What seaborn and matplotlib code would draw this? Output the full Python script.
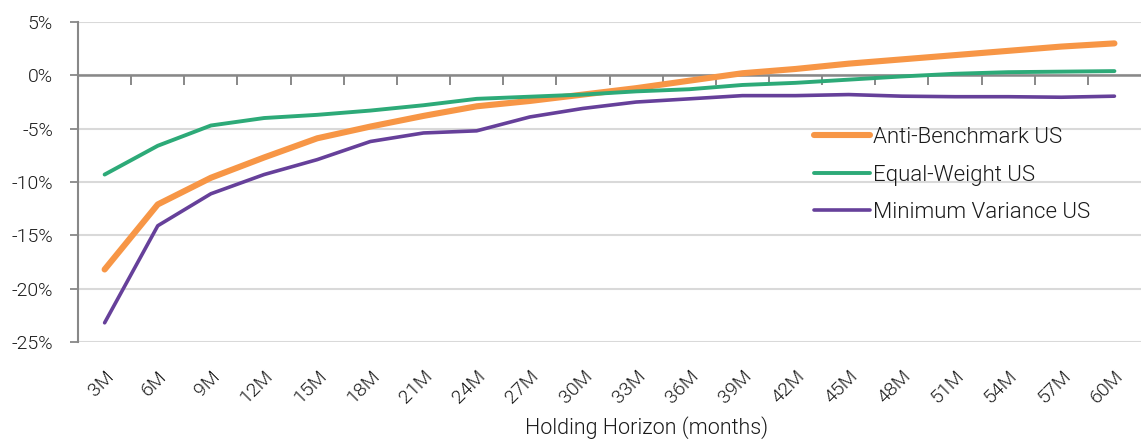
import numpy as np
import pandas as pd
import seaborn as sns
import matplotlib.pyplot as plt
from matplotlib.ticker import FixedLocator, FuncFormatter

# Data (returns in %)
horizons = ["3M", "6M", "9M", "12M", "15M", "18M", "21M", "24M", "27M", "30M",
            "33M", "36M", "39M", "42M", "45M", "48M", "51M", "54M", "57M", "60M"]
anti_benchmark = [-18.2, -12.1, -9.6, -7.7, -5.9, -4.8, -3.8, -2.9, -2.4, -1.8,
                  -1.2, -0.5, 0.2, 0.6, 1.1, 1.5, 1.9, 2.3, 2.7, 3.0]
equal_weight = [-9.3, -6.6, -4.7, -4.0, -3.7, -3.3, -2.8, -2.2, -2.0, -1.8,
                -1.5, -1.3, -0.9, -0.7, -0.4, -0.1, 0.15, 0.3, 0.35, 0.4]
min_variance = [-23.2, -14.1, -11.1, -9.3, -7.9, -6.2, -5.4, -5.2, -3.9, -3.1,
                -2.5, -2.2, -1.9, -1.9, -1.8, -1.95, -2.0, -2.0, -2.05, -1.95]
series_names = ["Anti-Benchmark US", "Equal-Weight US", "Minimum Variance US"]
y_ticks = [5, 0, -5, -10, -15, -20, -25]

colors = {"Anti-Benchmark US": "#F79646",
          "Equal-Weight US": "#2DAA78",
          "Minimum Variance US": "#66409A"}
widths = {"Anti-Benchmark US": 4.4, "Equal-Weight US": 2.8, "Minimum Variance US": 2.6}

df = pd.DataFrame({"horizon": horizons, "pos": np.arange(len(horizons)),
                   series_names[0]: anti_benchmark,
                   series_names[1]: equal_weight,
                   series_names[2]: min_variance})
long = df.melt(id_vars=["horizon", "pos"], var_name="series", value_name="ret")

sns.set_style("white")
plt.rcParams["font.family"] = ["Roboto", "DejaVu Sans"]
TXT = "#1a1a1a"
W = 300

fig = plt.figure(figsize=(11.41, 4.41), dpi=100)
ax = fig.add_axes([0.0684, 0.2245, 0.9316, 0.7255])

for name in series_names:
    sns.lineplot(data=long[long["series"] == name], x="pos", y="ret",
                 color=colors[name], linewidth=widths[name], label=name,
                 solid_capstyle="round", ax=ax, zorder=3)

ax.set_xlim(-0.5, len(horizons) - 0.5)
ax.set_ylim(-25, 5)

# horizontal gridlines
ax.set_yticks(y_ticks)
ax.yaxis.set_major_formatter(FuncFormatter(lambda v, p: f"{v:.0f}%"))
ax.grid(axis="y", color="#D9D9D9", linewidth=1.5)
ax.tick_params(axis="y", left=True, direction="out", length=6, width=1.3,
               color="#888888", labelsize=14, labelcolor=TXT, pad=12)
for lab in ax.get_yticklabels():
    lab.set_fontweight(W)

# category axis crossing at 0, with ticks between categories (pointing down)
ax.spines["bottom"].set_position(("data", 0))
ax.spines["bottom"].set_color("#888888")
ax.spines["bottom"].set_linewidth(1.8)
ax.spines["left"].set_color("#888888")
ax.spines["left"].set_linewidth(1.5)
ax.spines["top"].set_visible(False)
ax.spines["right"].set_visible(False)
ax.xaxis.set_major_locator(FixedLocator(np.arange(len(horizons) - 1) + 0.5))
ax.tick_params(axis="x", bottom=True, direction="out", length=7, width=1.4,
               color="#888888", labelbottom=False)

# labels along the bottom edge
sec = ax.secondary_xaxis(0.0)
sec.set_xticks(np.arange(len(horizons)))
sec.set_xticklabels(horizons, rotation=45, ha="right", rotation_mode="anchor")
sec.tick_params(length=0, labelsize=14, labelcolor=TXT, pad=18)
for lab in sec.get_xticklabels():
    lab.set_fontweight(W)
sec.spines["bottom"].set_visible(False)
sec.set_xlabel("Holding Horizon (months)", fontsize=15.5, color=TXT,
               fontweight=W)
sec.xaxis.set_label_coords(0.535, -0.232, transform=ax.transAxes)

ax.set_xlabel("")
ax.set_ylabel("")

leg = ax.legend(loc="upper left", bbox_to_anchor=(0.684, 0.70), frameon=False,
                fontsize=16, handlelength=2.5, handletextpad=0.15,
                labelspacing=0.75, borderaxespad=0)
for t in leg.get_texts():
    t.set_fontweight(W)
    t.set_color(TXT)

fig.savefig("out.png", dpi=100)
